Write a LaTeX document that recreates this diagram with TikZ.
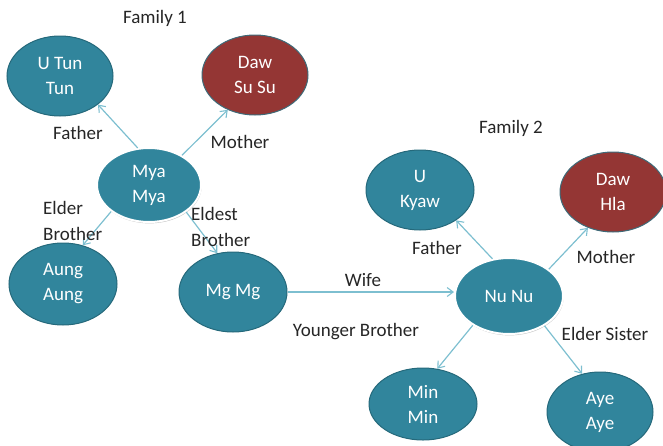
\documentclass[tikz,border=0pt]{standalone}
\usepackage{fontspec}
\setmainfont{Carlito}
\usetikzlibrary{shapes.geometric,arrows.meta}

\definecolor{tealfill}{HTML}{31859C}
\definecolor{tealedge}{HTML}{25697B}
\definecolor{redfill}{HTML}{943634}
\definecolor{rededge}{HTML}{3E6A78}
\definecolor{linkcol}{HTML}{7DBFD0}
\definecolor{labelcol}{HTML}{262626}

\tikzset{
  person/.style={ellipse, fill=tealfill, draw=tealedge, line width=1pt,
    minimum width=106pt, minimum height=80pt, inner sep=0pt,
    text=white, align=center, font=\fontsize{19}{25}\selectfont},
  mother/.style={person, fill=redfill, draw=rededge},
  centre/.style={person, draw=white, line width=2pt,
    preaction={fill=black!22, transform canvas={xshift=0.6pt, yshift=-1.4pt}}},
  rel/.style={text=labelcol, align=left, inner sep=0pt,
    font=\fontsize{19}{26}\selectfont},
  link/.style={draw=linkcol, line width=1.2pt,
    -{Straight Barb[length=6pt, width=9pt, line width=1.1pt]}},
}

\begin{document}
\begin{tikzpicture}[x=1pt, y=-1pt]
  \useasboundingbox (0,0) rectangle (663,445);

  % Family 1
  \node[rel] (fam1) at (155,18) {Family 1};
  \node[person] (utun) at (60,76) {U Tun\\Tun};
  \node[mother] (dawsu) at (255,75) {Daw\\Su Su};
  \node[centre, minimum width=104pt, minimum height=74pt] (mya) at (149,185) {Mya\\Mya};
  \node[person, minimum width=108pt, minimum height=82pt] (aung) at (63,284) {Aung\\Aung};
  \node[person, minimum width=108pt] (mgmg) at (233,292) {Mg Mg};

  % Family 2
  \node[rel] (fam2) at (511,128) {Family 2};
  \node[person, minimum width=108pt] (ukyaw) at (420,190) {U\\Kyaw};
  \node[mother] (dawhla) at (613,192) {Daw\\Hla};
  \node[centre, minimum width=108pt, minimum height=76pt] (nunu) at (509,296) {Nu Nu};
  \node[person, minimum width=108pt, minimum height=72pt] (minmin) at (423,404) {Min\\Min};
  \node[person] (aye) at (600,412) {Aye\\Aye};

  % relations of Mya Mya
  \draw[link] (mya.107) -- (utun.-37);
  \draw[link] (mya.42) -- (dawsu.232);
  \draw[link] (mya.215) -- (aung.63);
  \draw[link] (mya.-36) -- (mgmg.112);

  % link between the two families
  \draw[link] (mgmg.east) -- (mgmg.east -| nunu.west);

  % relations of Nu Nu
  \draw[link] (nunu.114) -- (ukyaw.-40);
  \draw[link] (nunu.34) -- (dawhla.235);
  \draw[link] (nunu.219) -- (minmin.68);
  \draw[link] (nunu.-40) -- (aye.115);

  % relation labels
  \node[rel] (lfather1) at (78,133) {Father};
  \node[rel] (lmother1) at (240,142) {Mother};
  \node[rel, anchor=west] (lelder) at (43,221) {Elder\\Brother};
  \node[rel, anchor=west] (leldest) at (191,227) {Eldest\\Brother};
  \node[rel] (lwife) at (363,280) {Wife};
  \node[rel] (lyounger) at (356,332) {Younger Brother};
  \node[rel] (lfather2) at (437,248) {Father};
  \node[rel] (lmother2) at (606,257) {Mother};
  \node[rel] (lsister) at (605,334) {Elder Sister};
\end{tikzpicture}
\end{document}
